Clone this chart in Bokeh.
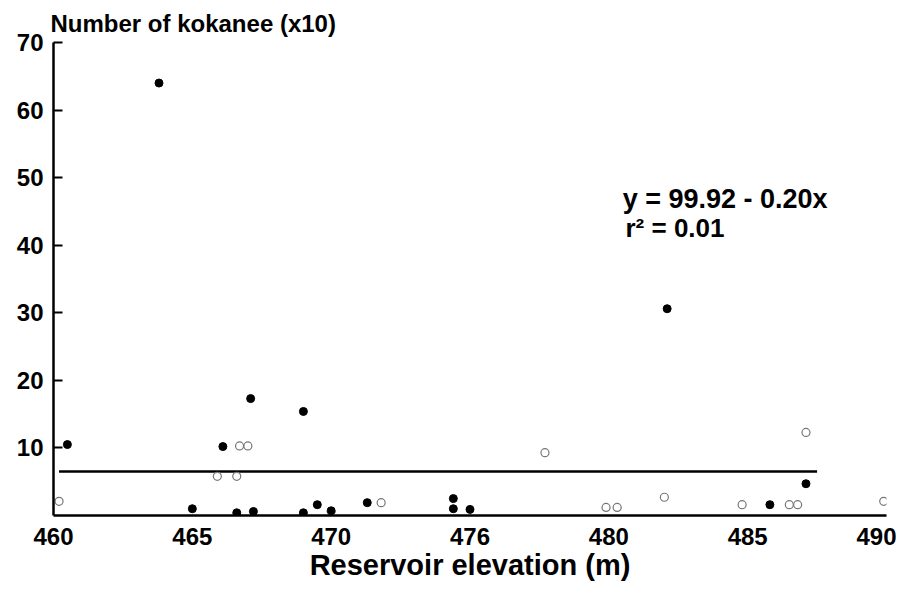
from bokeh.plotting import figure
from bokeh.models import Range1d, FixedTicker, Label
from bokeh.embed import file_html
from bokeh.resources import INLINE

# Data
solid_x = [463.8, 467.1, 469.0, 466.1, 482.1, 460.5, 465.0, 466.6, 467.2,
           469.0, 469.5, 470.0, 471.3, 474.4, 474.4, 475.0, 485.8, 487.1]
solid_y = [64.0, 17.3, 15.4, 10.2, 30.6, 10.5, 1.0, 0.4, 0.6,
           0.4, 1.6, 0.7, 1.9, 2.5, 1.0, 0.9, 1.6, 4.7]

open_x = [466.7, 467.0, 465.9, 466.6, 460.2, 477.7, 487.1, 471.8, 482.0,
          479.9, 480.3, 484.8, 486.5, 486.8, 489.9]
open_y = [10.3, 10.3, 5.8, 5.8, 2.1, 9.3, 12.3, 1.9, 2.7,
          1.2, 1.2, 1.6, 1.6, 1.6, 2.1]

fit_x = [460.2, 487.5]
fit_y = [6.5, 6.5]

x_ticks = [460, 465, 470, 475, 480, 485, 490]
x_tick_labels = ["460", "465", "470", "476", "480", "485", "490"]
y_ticks = [10, 20, 30, 40, 50, 60, 70]

y_title = "Number of kokanee (x10)"
x_title = "Reservoir elevation (m)"
eq_line1 = "y = 99.92 - 0.20x"
eq_line2 = "r² = 0.01"

FONT = "Liberation Sans"

p = figure(width=896, height=583, output_backend="svg", toolbar_location=None,
           x_range=Range1d(460, 490), y_range=Range1d(0, 70),
           min_border_left=53, min_border_right=10, min_border_top=42,
           min_border_bottom=68)
p.outline_line_color = None
p.xgrid.visible = False
p.ygrid.visible = False
p.background_fill_color = "white"
p.border_fill_color = "white"

# title (y-axis caption above the plot)
p.title.text = y_title
p.title.align = "left"
p.title.offset = -3
p.title.standoff = 11
p.title.text_font = FONT
p.title.text_font_style = "bold"
p.title.text_font_size = "24px"
p.title.text_color = "black"

# axes
p.xaxis.ticker = FixedTicker(ticks=x_ticks)
p.xaxis.major_label_overrides = {t: l for t, l in zip(x_ticks, x_tick_labels)}
p.xaxis.major_tick_in = 0
p.xaxis.major_tick_out = 0
p.xaxis.minor_tick_line_color = None
p.xaxis.axis_line_width = 2.5
p.xaxis.axis_line_color = "black"
p.xaxis.major_label_text_font = FONT
p.xaxis.major_label_text_font_style = "bold"
p.xaxis.major_label_text_font_size = "24px"
p.xaxis.major_label_text_color = "black"
p.xaxis.major_label_standoff = 12
p.xaxis.axis_label = x_title
p.xaxis.axis_label_text_font = FONT
p.xaxis.axis_label_text_font_style = "bold"
p.xaxis.axis_label_text_font_size = "29px"
p.xaxis.axis_label_text_color = "black"
p.xaxis.axis_label_standoff = 1

p.yaxis.ticker = FixedTicker(ticks=y_ticks)
p.yaxis.major_tick_in = 9
p.yaxis.major_tick_out = 0
p.yaxis.major_tick_line_width = 2
p.yaxis.minor_tick_line_color = None
p.yaxis.axis_line_width = 2.5
p.yaxis.axis_line_color = "black"
p.yaxis.major_label_text_font = FONT
p.yaxis.major_label_text_font_style = "bold"
p.yaxis.major_label_text_font_size = "24px"
p.yaxis.major_label_text_color = "black"
p.yaxis.major_label_standoff = 10

# regression line
p.line(fit_x, fit_y, line_color="black", line_width=2.5)

# open (second group) symbols
p.scatter(open_x, open_y, marker="circle", size=8, fill_color="white",
          line_color="#777777", line_width=1.2)

# solid points
p.scatter(solid_x, solid_y, marker="circle", size=8, fill_color="black",
          line_color="black")

# regression annotation
p.add_layout(Label(x=480.5, y=46.8, text=eq_line1, text_font=FONT,
                   text_font_style="bold", text_font_size="27px",
                   text_color="black", text_baseline="alphabetic"))
p.add_layout(Label(x=480.6, y=42.6, text=eq_line2, text_font=FONT,
                   text_font_style="bold", text_font_size="26px",
                   text_color="black", text_baseline="alphabetic"))

open("out.html", "w").write(file_html(p, INLINE))
